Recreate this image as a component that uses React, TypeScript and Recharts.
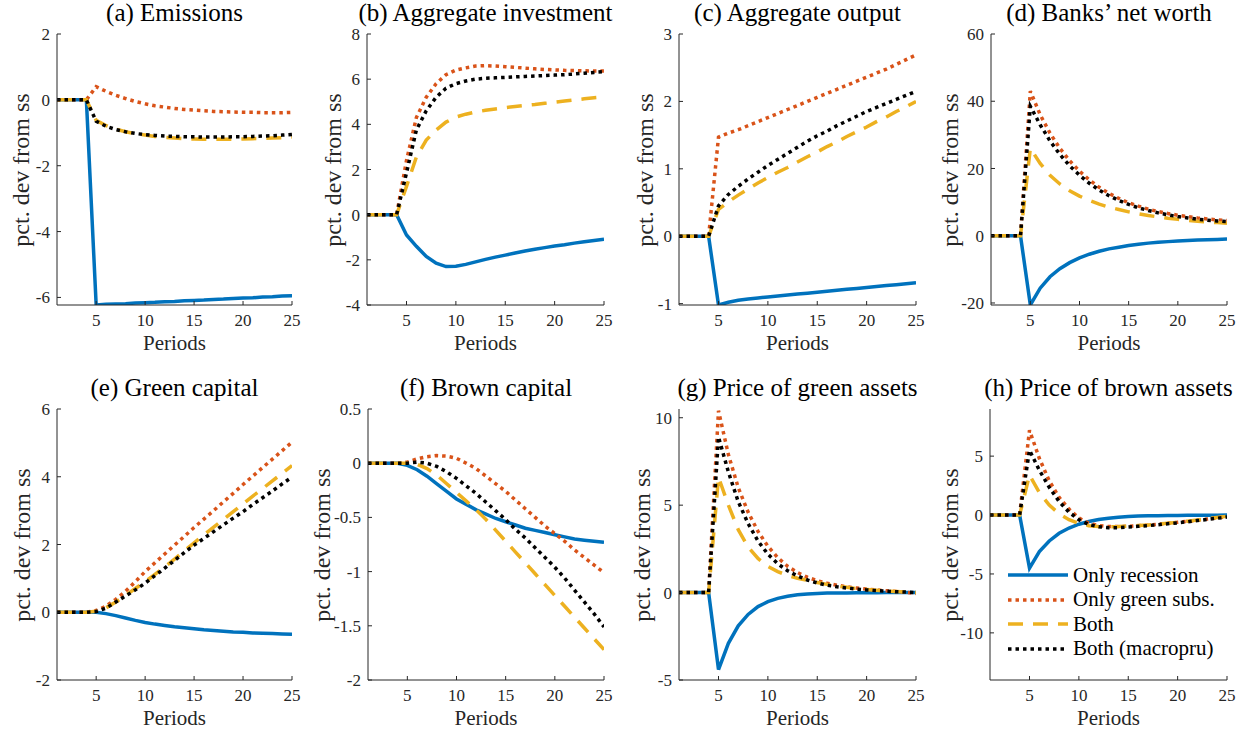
import React from "react";
import { LineChart, Line, XAxis, YAxis } from "recharts";

const periods = [1, 2, 3, 4, 5, 6, 7, 8, 9, 10, 11, 12, 13, 14, 15, 16, 17, 18, 19, 20, 21, 22, 23, 24, 25];

// (a) Emissions
const emisRec = [0, 0, 0, 0, -6.23, -6.21, -6.2, -6.19, -6.17, -6.16, -6.15, -6.13, -6.12, -6.1, -6.09, -6.08, -6.06, -6.05, -6.03, -6.02, -6.01, -5.99, -5.98, -5.96, -5.95];
const emisGreen = [0, 0, 0, 0, 0.4, 0.26, 0.14, 0.04, -0.05, -0.12, -0.18, -0.22, -0.26, -0.29, -0.31, -0.33, -0.35, -0.36, -0.37, -0.38, -0.38, -0.39, -0.39, -0.39, -0.38];
const emisBoth = [0, 0, 0, 0, -0.62, -0.78, -0.89, -0.97, -1.03, -1.07, -1.11, -1.14, -1.16, -1.18, -1.19, -1.2, -1.2, -1.2, -1.2, -1.19, -1.18, -1.17, -1.16, -1.15, -1.13];
const emisMacro = [0, 0, 0, 0, -0.65, -0.8, -0.9, -0.97, -1.02, -1.06, -1.08, -1.1, -1.11, -1.12, -1.12, -1.13, -1.13, -1.13, -1.12, -1.12, -1.11, -1.1, -1.09, -1.07, -1.05];

// (b) Aggregate investment
const invRec = [0, 0, 0, 0, -0.9, -1.4, -1.85, -2.15, -2.3, -2.28, -2.2, -2.09, -1.98, -1.88, -1.79, -1.7, -1.61, -1.53, -1.46, -1.39, -1.33, -1.26, -1.2, -1.14, -1.09];
const invGreen = [0, 0, 0, 0, 2.4, 4.3, 5.2, 5.8, 6.2, 6.4, 6.5, 6.58, 6.6, 6.58, 6.55, 6.52, 6.49, 6.46, 6.43, 6.41, 6.39, 6.38, 6.37, 6.36, 6.36];
const invBoth = [0, 0, 0, 0, 1.25, 2.55, 3.3, 3.75, 4.1, 4.32, 4.45, 4.55, 4.62, 4.68, 4.74, 4.79, 4.84, 4.88, 4.93, 4.98, 5.03, 5.08, 5.13, 5.18, 5.22];
const invMacro = [0, 0, 0, 0, 1.85, 3.75, 4.6, 5.2, 5.6, 5.8, 5.92, 6.0, 6.04, 6.06, 6.08, 6.1, 6.12, 6.14, 6.16, 6.18, 6.2, 6.23, 6.26, 6.3, 6.33];

// (c) Aggregate output
const outRec = [0, 0, 0, 0, -1.02, -0.98, -0.95, -0.93, -0.915, -0.9, -0.886, -0.872, -0.858, -0.844, -0.83, -0.816, -0.802, -0.788, -0.774, -0.76, -0.746, -0.732, -0.718, -0.704, -0.69];
const outGreen = [0, 0, 0, 0, 1.47, 1.53, 1.58, 1.64, 1.7, 1.76, 1.82, 1.88, 1.94, 2.0, 2.06, 2.12, 2.18, 2.24, 2.3, 2.36, 2.42, 2.48, 2.55, 2.62, 2.69];
const outBoth = [0, 0, 0, 0, 0.4, 0.51, 0.61, 0.7, 0.79, 0.87, 0.95, 1.02, 1.1, 1.18, 1.25, 1.33, 1.4, 1.48, 1.55, 1.62, 1.7, 1.77, 1.85, 1.92, 2.0];
const outMacro = [0, 0, 0, 0, 0.45, 0.62, 0.74, 0.85, 0.95, 1.05, 1.14, 1.23, 1.32, 1.41, 1.49, 1.56, 1.64, 1.71, 1.78, 1.85, 1.91, 1.97, 2.03, 2.09, 2.15];

// (d) Banks' net worth
const nwRec = [0, 0, 0, 0, -20.6, -15.6, -12.2, -9.8, -8.0, -6.6, -5.5, -4.6, -3.9, -3.4, -2.9, -2.5, -2.2, -1.95, -1.75, -1.6, -1.45, -1.3, -1.2, -1.1, -1.0];
const nwGreen = [0, 0, 0, 0, 43, 36, 30.5, 26, 22.3, 19.2, 16.6, 14.4, 12.6, 11.1, 9.8, 8.8, 7.9, 7.2, 6.6, 6.1, 5.7, 5.3, 5.0, 4.7, 4.5];
const nwBoth = [0, 0, 0, 0, 26, 21.5, 18, 15.4, 13.4, 11.8, 10.5, 9.4, 8.5, 7.8, 7.1, 6.5, 6.0, 5.6, 5.2, 4.9, 4.6, 4.3, 4.1, 3.9, 3.7];
const nwMacro = [0, 0, 0, 0, 38.5, 33, 28.2, 24.2, 20.8, 18, 15.6, 13.6, 11.9, 10.5, 9.3, 8.3, 7.5, 6.8, 6.2, 5.7, 5.3, 4.9, 4.6, 4.4, 4.2];

// (e) Green capital
const gkRec = [0, 0, 0, 0, 0, -0.04, -0.1, -0.17, -0.24, -0.3, -0.35, -0.39, -0.43, -0.46, -0.49, -0.52, -0.54, -0.56, -0.58, -0.59, -0.61, -0.62, -0.63, -0.64, -0.65];
const gkGreen = [0, 0, 0, 0, 0.05, 0.18, 0.38, 0.62, 0.9, 1.2, 1.46, 1.72, 1.98, 2.24, 2.5, 2.75, 3.0, 3.26, 3.51, 3.77, 4.02, 4.27, 4.52, 4.77, 5.02];
const gkBoth = [0, 0, 0, 0, 0.03, 0.13, 0.3, 0.5, 0.7, 0.9, 1.12, 1.34, 1.57, 1.81, 2.05, 2.28, 2.51, 2.74, 2.97, 3.2, 3.43, 3.65, 3.88, 4.1, 4.33];
const gkMacro = [0, 0, 0, 0, 0.02, 0.12, 0.3, 0.48, 0.66, 0.86, 1.08, 1.3, 1.53, 1.76, 1.98, 2.18, 2.38, 2.58, 2.78, 2.97, 3.18, 3.38, 3.58, 3.79, 3.99];

// (f) Brown capital
const bkRec = [0, 0, 0, 0, -0.02, -0.06, -0.12, -0.19, -0.26, -0.33, -0.38, -0.43, -0.47, -0.51, -0.54, -0.57, -0.6, -0.62, -0.64, -0.66, -0.68, -0.7, -0.71, -0.72, -0.73];
const bkGreen = [0, 0, 0, 0, 0.01, 0.04, 0.06, 0.07, 0.065, 0.045, 0.0, -0.05, -0.12, -0.19, -0.26, -0.34, -0.42, -0.5, -0.58, -0.65, -0.72, -0.8, -0.87, -0.94, -1.01];
const bkBoth = [0, 0, 0, 0, 0, -0.01, -0.05, -0.11, -0.19, -0.27, -0.35, -0.43, -0.52, -0.62, -0.72, -0.82, -0.92, -1.02, -1.12, -1.22, -1.32, -1.42, -1.52, -1.62, -1.72];
const bkMacro = [0, 0, 0, 0, 0, 0.01, 0.0, -0.03, -0.08, -0.14, -0.21, -0.28, -0.36, -0.44, -0.52, -0.61, -0.69, -0.78, -0.87, -0.96, -1.06, -1.17, -1.28, -1.39, -1.51];

// (g) Price of green assets
const pgRec = [0, 0, 0, 0, -4.4, -2.9, -1.9, -1.25, -0.8, -0.52, -0.33, -0.21, -0.13, -0.08, -0.05, -0.03, -0.02, -0.02, -0.01, -0.01, -0.01, 0, 0, 0, 0];
const pgGreen = [0, 0, 0, 0, 10.4, 7.9, 6.0, 4.6, 3.5, 2.65, 2.0, 1.5, 1.15, 0.88, 0.68, 0.53, 0.42, 0.33, 0.26, 0.2, 0.15, 0.1, 0.06, 0.02, -0.05];
const pgBoth = [0, 0, 0, 0, 6.6, 5.0, 3.6, 2.6, 1.95, 1.5, 1.2, 0.98, 0.82, 0.7, 0.58, 0.47, 0.38, 0.3, 0.23, 0.18, 0.13, 0.09, 0.06, 0.03, 0.0];
const pgMacro = [0, 0, 0, 0, 8.9, 6.9, 5.2, 3.95, 2.95, 2.2, 1.65, 1.25, 0.95, 0.72, 0.55, 0.42, 0.33, 0.26, 0.2, 0.15, 0.11, 0.08, 0.05, 0.03, 0.0];

// (h) Price of brown assets
const pbRec = [0, 0, 0, 0, -4.5, -3.1, -2.2, -1.55, -1.1, -0.78, -0.55, -0.38, -0.27, -0.19, -0.13, -0.09, -0.07, -0.05, -0.04, -0.03, -0.02, -0.02, -0.01, -0.01, 0];
const pbGreen = [0, 0, 0, 0, 7.2, 4.8, 2.9, 1.5, 0.5, -0.25, -0.7, -0.9, -0.98, -0.98, -0.95, -0.9, -0.85, -0.78, -0.7, -0.62, -0.53, -0.44, -0.34, -0.24, -0.14];
const pbBoth = [0, 0, 0, 0, 3.4, 1.9, 0.85, 0.1, -0.4, -0.72, -0.9, -0.98, -1.0, -0.98, -0.94, -0.89, -0.84, -0.77, -0.7, -0.62, -0.52, -0.42, -0.31, -0.2, -0.1];
const pbMacro = [0, 0, 0, 0, 5.5, 3.8, 2.35, 1.15, 0.25, -0.4, -0.8, -1.0, -1.07, -1.07, -1.02, -0.96, -0.9, -0.82, -0.74, -0.66, -0.57, -0.47, -0.37, -0.27, -0.17];

const xTicks = [5, 10, 15, 20, 25];
const seriesNames = ["Only recession", "Only green subs.", "Both", "Both (macropru)"];

const FONT = "'Liberation Serif', 'Times New Roman', serif";
const AX = "#262626";
const COLORS = ["#0072BD", "#D95319", "#EDB120", "#000000"];
const DASHES = [undefined, "3.5 4", "15 10", "3.5 4"];
const KEYS = ["rec", "green", "both", "macro"];

const YW = 50;
const MT = 10;
const MR = 12;
const XH = 45;

type PanelProps = {
  title: string;
  series: number[][];
  domain: [number, number];
  ticks: number[];
  pl: number;
  pr: number;
  pt: number;
  pb: number;
  labelX: number;
};

function Panel({ title, series, domain, ticks, pl, pr, pt, pb, labelX }: PanelProps) {
  const data = periods.map((p, i) => ({
    p,
    rec: series[0][i],
    green: series[1][i],
    both: series[2][i],
    macro: series[3][i],
  }));
  const w = pr - pl + YW + MR;
  const h = pb - pt + MT + XH;
  const cx = (pl + pr) / 2;
  const cy = (pt + pb) / 2;
  return (
    <>
      <div style={{ position: "absolute", left: pl - YW, top: pt - MT }}>
        <LineChart width={w} height={h} data={data} margin={{ top: MT, right: MR, bottom: 0, left: 0 }}>
          <XAxis
            dataKey="p"
            type="number"
            domain={[1, 25]}
            ticks={xTicks}
            height={XH}
            stroke={AX}
            tickSize={-4}
            tickMargin={13}
            tick={{ fill: AX, fontSize: 17, fontFamily: FONT }}
            allowDataOverflow
          />
          <YAxis
            type="number"
            domain={domain}
            ticks={ticks}
            width={YW}
            stroke={AX}
            tickSize={-4}
            tickMargin={11}
            tick={{ fill: AX, fontSize: 17, fontFamily: FONT }}
            allowDataOverflow
          />
          {KEYS.map((k, i) => (
            <Line
              key={k}
              dataKey={k}
              type="linear"
              stroke={COLORS[i]}
              strokeWidth={3.5}
              strokeDasharray={DASHES[i]}
              dot={false}
              activeDot={false}
              isAnimationActive={false}
            />
          ))}
        </LineChart>
      </div>
      <div
        style={{
          position: "absolute",
          left: cx - 200,
          width: 400,
          top: pt - 35,
          height: 28,
          lineHeight: "28px",
          textAlign: "center",
          fontFamily: FONT,
          fontSize: 25,
          color: "#000",
          whiteSpace: "nowrap",
        }}
      >
        {title}
      </div>
      <div
        style={{
          position: "absolute",
          left: cx - 100,
          width: 200,
          top: pb + 26,
          height: 24,
          lineHeight: "24px",
          textAlign: "center",
          fontFamily: FONT,
          fontSize: 21,
          color: AX,
        }}
      >
        Periods
      </div>
      <div
        style={{
          position: "absolute",
          left: labelX - 120,
          top: cy - 13,
          width: 240,
          height: 26,
          lineHeight: "26px",
          textAlign: "center",
          fontFamily: FONT,
          fontSize: 24,
          color: AX,
          transform: "rotate(-90deg)",
          whiteSpace: "nowrap",
        }}
      >
        pct. dev from ss
      </div>
    </>
  );
}

function LegendBox({ left, top }: { left: number; top: number }) {
  return (
    <div style={{ position: "absolute", left, top }}>
      {seriesNames.map((name, i) => (
        <div key={name} style={{ display: "flex", alignItems: "center", height: 24.5 }}>
          <svg width={62} height={10} style={{ display: "block" }}>
            <line
              x1={1}
              y1={5}
              x2={61}
              y2={5}
              stroke={COLORS[i]}
              strokeWidth={3.5}
              strokeDasharray={DASHES[i]}
            />
          </svg>
          <span style={{ marginLeft: 4, fontFamily: FONT, fontSize: 21, color: "#000", whiteSpace: "nowrap" }}>
            {name}
          </span>
        </div>
      ))}
    </div>
  );
}

export default function App() {
  return (
    <div style={{ position: "absolute", left: 0, top: 0, width: 1250, height: 731, background: "#fff" }}>
      <Panel title="(a) Emissions" series={[emisRec, emisGreen, emisBoth, emisMacro]} domain={[-6.23, 2]} ticks={[-6, -4, -2, 0, 2]} pl={57} pr={292} pt={34} pb={305} labelX={21} />
      <Panel title="(b) Aggregate investment" series={[invRec, invGreen, invBoth, invMacro]} domain={[-4, 8]} ticks={[-4, -2, 0, 2, 4, 6, 8]} pl={367} pr={604} pt={34} pb={305} labelX={333} />
      <Panel title="(c) Aggregate output" series={[outRec, outGreen, outBoth, outMacro]} domain={[-1.02, 3]} ticks={[-1, 0, 1, 2, 3]} pl={679} pr={916} pt={34} pb={305} labelX={645} />
      <Panel title="(d) Banks’ net worth" series={[nwRec, nwGreen, nwBoth, nwMacro]} domain={[-20.6, 60]} ticks={[-20, 0, 20, 40, 60]} pl={991} pr={1227} pt={34} pb={305} labelX={950} />
      <Panel title="(e) Green capital" series={[gkRec, gkGreen, gkBoth, gkMacro]} domain={[-2, 6]} ticks={[-2, 0, 2, 4, 6]} pl={57} pr={292} pt={409} pb={680} labelX={22} />
      <Panel title="(f) Brown capital" series={[bkRec, bkGreen, bkBoth, bkMacro]} domain={[-2, 0.5]} ticks={[-2, -1.5, -1, -0.5, 0, 0.5]} pl={368} pr={604} pt={409} pb={680} labelX={322} />
      <Panel title="(g) Price of green assets" series={[pgRec, pgGreen, pgBoth, pgMacro]} domain={[-5, 10.5]} ticks={[-5, 0, 5, 10]} pl={679} pr={916} pt={409} pb={680} labelX={642} />
      <Panel title="(h) Price of brown assets" series={[pbRec, pbGreen, pbBoth, pbMacro]} domain={[-14, 9]} ticks={[-10, -5, 0, 5]} pl={990} pr={1227} pt={409} pb={680} labelX={950} />
      <LegendBox left={1007} top={563} />
    </div>
  );
}
